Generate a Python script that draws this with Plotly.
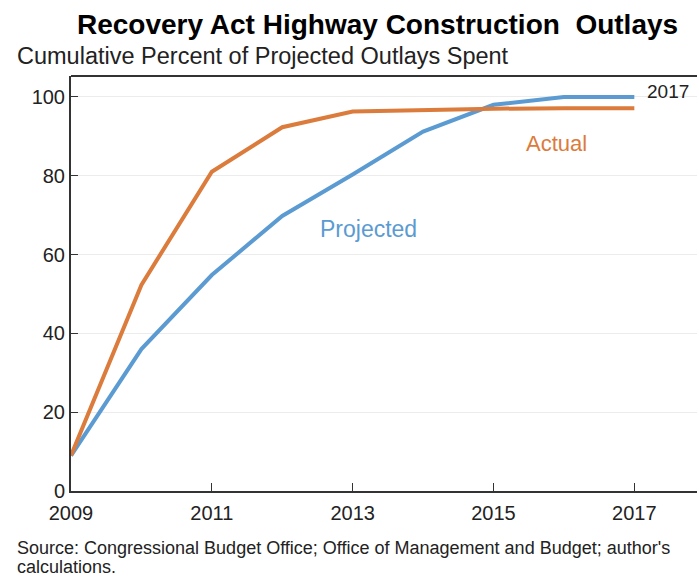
import plotly.graph_objects as go

years = [2009, 2010, 2011, 2012, 2013, 2014, 2015, 2016, 2017]
actual = [9, 52.3, 81, 92.3, 96.3, 96.7, 97.0, 97.1, 97.1]
projected = [9, 36, 54.8, 69.8, 80.3, 91.2, 98.0, 100, 100]

x_ticks = [2009, 2011, 2013, 2015, 2017]
y_ticks = [0, 20, 40, 60, 80, 100]

ORANGE = "#DB7B3C"
BLUE = "#5B9BD2"
FONT = "Liberation Sans, Arial, sans-serif"

fig = go.Figure()
fig.add_trace(go.Scatter(x=years, y=projected, mode="lines",
                         line=dict(color=BLUE, width=4), showlegend=False))
fig.add_trace(go.Scatter(x=years, y=actual, mode="lines",
                         line=dict(color=ORANGE, width=4), showlegend=False))

annotations = [
    dict(text="<b>Recovery Act Highway Construction&nbsp; Outlays</b>", xref="paper", yref="paper",
         x=0.4896, y=1.125, xanchor="center", yanchor="middle", showarrow=False,
         font=dict(size=28, color="#000000", family=FONT)),
    dict(text="Cumulative Percent of Projected Outlays Spent", xref="paper", yref="paper",
         x=-0.090, y=1.048, xanchor="left", yanchor="middle", showarrow=False,
         font=dict(size=23.5, color="#222222", family=FONT)),
    dict(text="Source: Congressional Budget Office; Office of Management and Budget; author's",
         xref="paper", yref="paper", x=-0.090, y=-0.137, xanchor="left", yanchor="middle",
         showarrow=False, font=dict(size=18, color="#222222", family=FONT)),
    dict(text="calculations.",
         xref="paper", yref="paper", x=-0.090, y=-0.183, xanchor="left", yanchor="middle",
         showarrow=False, font=dict(size=18, color="#222222", family=FONT)),
    dict(text="2017", x=2017.48, y=101.3, xanchor="center", yanchor="middle", showarrow=False,
         font=dict(size=19, color="#222222", family=FONT)),
    dict(text="Actual", x=2015.9, y=88.3, xanchor="center", yanchor="middle", showarrow=False,
         font=dict(size=22, color=ORANGE, family=FONT)),
    dict(text="Projected", x=2013.23, y=66.5, xanchor="center", yanchor="middle", showarrow=False,
         font=dict(size=23, color=BLUE, family=FONT)),
]

fig.update_layout(
    width=699, height=578,
    margin=dict(l=71, r=2, t=76, b=87),
    paper_bgcolor="white", plot_bgcolor="white",
    font=dict(family=FONT, color="#222222"),
    annotations=annotations,
    xaxis=dict(range=[2009, 2017.89], tickvals=x_ticks, ticktext=[str(v) for v in x_ticks],
               ticks="inside", ticklen=8, tickcolor="#333333", showgrid=False,
               showline=True, linecolor="#333333", linewidth=2, mirror=False,
               tickfont=dict(size=20, color="#222222"), ticklabelstandoff=3,
               zeroline=False),
    yaxis=dict(range=[0, 105.3], tickvals=y_ticks, ticks="inside", ticklen=7,
               tickcolor="#333333", showgrid=True, gridcolor="#ececec", gridwidth=1,
               showline=True, linecolor="#333333", linewidth=2,
               tickfont=dict(size=20, color="#222222"), zeroline=False),
    shapes=[dict(type="line", xref="paper", yref="paper", x0=0, x1=1, y0=1, y1=1,
                 line=dict(color="#333333", width=2))],
)

fig.write_html("out.html")
